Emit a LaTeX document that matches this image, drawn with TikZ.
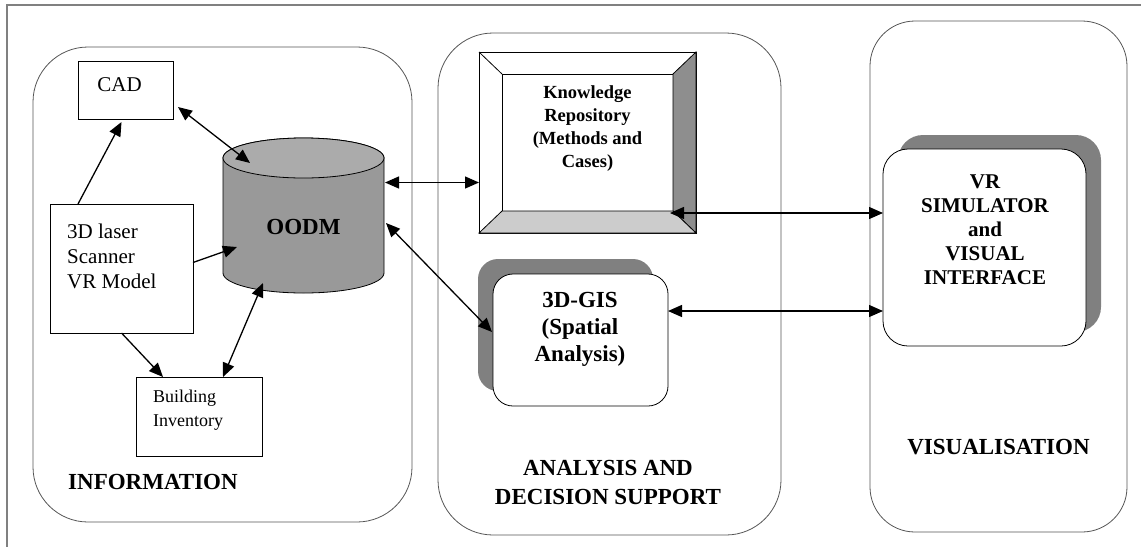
\documentclass[tikz,border=0pt]{standalone}
\usepackage{fontspec}
\setmainfont{Liberation Serif}
\usetikzlibrary{arrows.meta, shadows}

\definecolor{framegray}{HTML}{808080}
\definecolor{panelgray}{HTML}{555555}
\definecolor{shadowgray}{HTML}{808080}
\definecolor{bodygray}{HTML}{999999}
\definecolor{topgray}{HTML}{ABABAB}
\definecolor{beveldark}{HTML}{8E8E8E}
\definecolor{bevellight}{HTML}{CCCCCC}

\begin{document}
\begin{tikzpicture}[
  x=1pt, y=-1pt,
  panel/.style={draw=panelgray, line width=0.8pt, rounded corners=55pt, inner sep=0pt, outer sep=0pt},
  box/.style={draw, line width=0.8pt, fill=white, inner sep=0pt, outer sep=0pt},
  rbox/.style={box, rounded corners=20pt},
  txt/.style={inner sep=0pt, align=center, font=\fontsize{21}{25}\selectfont},
  title/.style={inner sep=0pt, align=center, font=\bfseries\fontsize{23}{28}\selectfont},
  arrow/.style={-{Triangle[length=14pt, width=12pt]}, line width=1.3pt},
  twoway/.style={arrow, {Triangle[length=14pt, width=12pt]}-{Triangle[length=14pt, width=12pt]}}
]
\useasboundingbox (0,0) rectangle (1141,547);

% outer frame
\draw[framegray, line width=1.4pt] (1141,5) -- (7,5) -- (7,547);

% Panels
\node[panel, minimum width=379pt, minimum height=475pt] (info) at (222.5,284.5) {};
\node[panel, minimum width=343pt, minimum height=502pt] (analysis) at (609.5,284) {};
\node[panel, rounded corners=45pt, minimum width=257pt, minimum height=511pt] (visual) at (998.5,276.5) {};

\node[title, anchor=west] (infotxt) at (68,482) {INFORMATION};
\node[title, font=\bfseries\fontsize{23}{29}\selectfont] (analysistxt) at (608,482.5) {ANALYSIS AND\\DECISION SUPPORT};
\node[title] (visualtxt) at (998.5,447) {VISUALISATION};

% Information panel
\node[box, minimum width=95pt, minimum height=58pt] (CAD) at (125.5,90) {};
\node[txt] (CADtxt) at (119.5,85) {CAD};

\node[box, minimum width=143pt, minimum height=129pt] (laser) at (121.5,268.5) {};
\node[txt, align=left, anchor=west] (lasertxt) at (67,256) {3D laser\\Scanner\\VR Model};

\node[box, minimum width=126pt, minimum height=79pt] (building) at (199,416.5) {};
\node[txt, align=left, anchor=west, font=\fontsize{18}{24}\selectfont] (buildingtxt) at (153,410) {Building\\Inventory};

% OODM cylinder
\node[inner sep=0pt, outer sep=0pt, minimum width=161pt, minimum height=155pt] (OODM) at (303.5,215.5) {};
\filldraw[fill=bodygray, line width=0.8pt] ([yshift=-20pt]OODM.north west) -- ([yshift=20pt]OODM.south west)
  arc[start angle=180, end angle=360, x radius=80.5pt, y radius=20pt]
  -- ([yshift=-20pt]OODM.north east)
  arc[start angle=0, end angle=180, x radius=80.5pt, y radius=20pt] -- cycle;
\filldraw[fill=topgray, line width=0.8pt] ([yshift=-20pt]OODM.north) ellipse[x radius=80.5pt, y radius=20pt];
\node[title] (OODMtxt) at (303.5,227) {OODM};

% Analysis panel
\node[box, minimum width=217pt, minimum height=181pt] (KR) at (587.5,142.5) {};
\node[box, minimum width=171pt, minimum height=137pt] (KRin) at (587.5,142.5) {};
\filldraw[fill=beveldark, line width=0.8pt] (KR.north east) -- (KR.south east) -- (KRin.south east) -- (KRin.north east) -- cycle;
\filldraw[fill=bevellight, line width=0.8pt] (KR.south west) -- (KR.south east) -- (KRin.south east) -- (KRin.south west) -- cycle;
\draw[line width=0.8pt] (KR.north west) -- (KRin.north west);
\node[title, font=\bfseries\fontsize{18.5}{23}\selectfont] (KRtxt) at (587.5,129) {Knowledge\\Repository\\(Methods and\\Cases)};

\node[rbox, minimum width=175pt, minimum height=132pt,
  copy shadow={shadow xshift=-15pt, shadow yshift=15pt, draw=none, fill=shadowgray}] (GIS) at (580.5,340) {};
\node[title, font=\bfseries\fontsize{23}{27}\selectfont] (GIStxt) at (580,329) {3D-GIS\\(Spatial\\Analysis)};

% Visualisation panel
\node[rbox, rounded corners=25pt, minimum width=203pt, minimum height=197pt,
  copy shadow={shadow xshift=15pt, shadow yshift=14pt, draw=none, fill=shadowgray}] (VR) at (984.5,247.5) {};
\node[title, font=\bfseries\fontsize{21}{24}\selectfont] (VRtxt) at (985,230) {VR\\SIMULATOR\\and\\VISUAL\\INTERFACE};

% Arrows
\draw[twoway] ([shift={(5,17)}]CAD.east) -- ([shift={(27,25)}]OODM.north west);
\draw[arrow] ([xshift=28pt]laser.north west) -- ([shift={(-4,3)}]CAD.south);
\draw[arrow] ([shift={(0,-6)}]laser.east) -- ([shift={(14,31.5)}]OODM.west);
\draw[arrow] (laser.south) -- ([xshift=-36pt]building.north);
\draw[twoway] ([xshift=-39pt]building.north east) -- ([shift={(-40.5,-10)}]OODM.south);

\draw[twoway] ([shift={(1,-33)}]OODM.east) -- ([shift={(0,40)}]KR.west);
\draw[twoway] ([shift={(2,7.5)}]OODM.east) -- ([shift={(-1,-8)}]GIS.west);

\draw[twoway] ([shift={(-26,70.5)}]KR.east) -- ([shift={(0,-34.5)}]VR.west);
\draw[twoway] ([shift={(0,-29)}]GIS.east) -- ([shift={(0,63.5)}]VR.west);

\end{tikzpicture}
\end{document}
